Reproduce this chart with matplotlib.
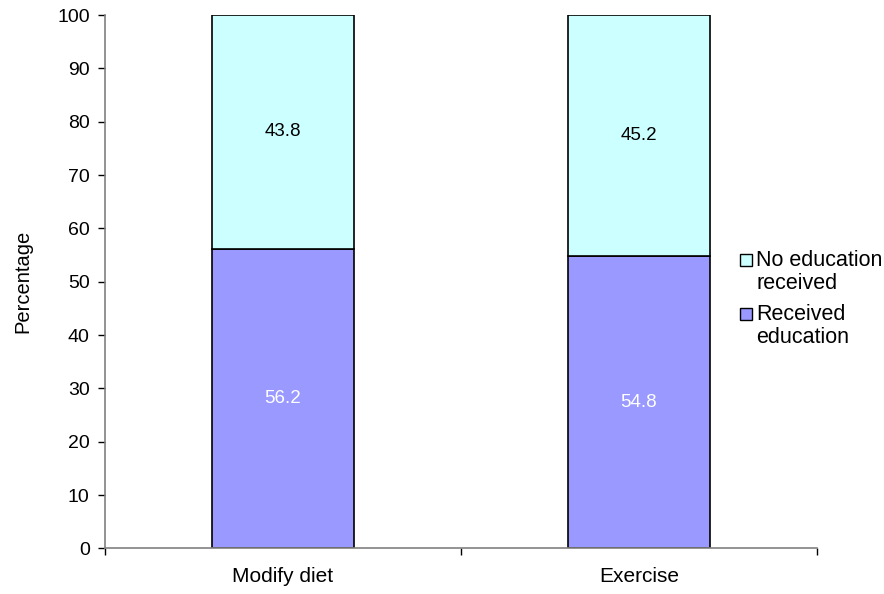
import matplotlib
matplotlib.use("Agg")
import matplotlib.pyplot as plt
from matplotlib.patches import Rectangle
import numpy as np

categories = ["Modify diet", "Exercise"]
received = [56.2, 54.8]
no_education = [43.8, 45.2]

RECEIVED_COLOR = '#9999FF'
NO_EDU_COLOR = '#CCFFFF'

plt.rcParams['font.family'] = ['Liberation Sans', 'DejaVu Sans']

fig = plt.figure(figsize=(8.84, 5.94), dpi=100)
ax = fig.add_axes([0.1188, 0.0766, 0.8054, 0.8981])

x = np.arange(len(categories))
width = 0.4

ax.bar(x, received, width, color=RECEIVED_COLOR, edgecolor='black', linewidth=1.2)
ax.bar(x, no_education, width, bottom=received, color=NO_EDU_COLOR, edgecolor='black',
       linewidth=1.2)

for i in range(len(categories)):
    ax.text(x[i], received[i] / 2, f"{received[i]:.1f}", ha='center', va='center',
            color='white', fontsize=13.5)
    ax.text(x[i], received[i] + no_education[i] / 2, f"{no_education[i]:.1f}",
            ha='center', va='center', color='black', fontsize=13.5)

ax.set_xlim(-0.5, len(categories) - 0.5)
ax.set_ylim(0, 100)
ax.set_yticks(np.arange(0, 101, 10))
ax.set_xticks(x)
ax.set_xticklabels(categories, fontsize=15)
ax.set_xticks(np.arange(-0.5, len(categories), 1), minor=True)
ax.tick_params(axis='x', which='major', length=0, pad=13)
ax.tick_params(axis='x', which='minor', length=5, width=1, color='black')
ax.tick_params(axis='y', labelsize=14, length=5, width=1, color='black', pad=6)

for s in ['top', 'right']:
    ax.spines[s].set_visible(False)
for s in ['left', 'bottom']:
    ax.spines[s].set_color('#808080')
    ax.spines[s].set_linewidth(1.2)

ax.set_ylabel("Percentage", fontsize=14.5)
ax.yaxis.set_label_coords(-0.1025, 0.5)

# legend drawn Excel-style: square next to the first line of each label
W, H = 884.0, 594.0
legend_items = [("No education\nreceived", NO_EDU_COLOR, 254),
                ("Received\neducation", RECEIVED_COLOR, 308)]
for label, color, top in legend_items:
    fig.patches.append(Rectangle((740 / W, 1 - (top + 12) / H), 12 / W, 12 / H,
                                 transform=fig.transFigure, facecolor=color,
                                 edgecolor='black', linewidth=1))
    fig.text(756 / W, 1 - (top - 4) / H, label, ha='left', va='top',
             fontsize=15.5, linespacing=1.1)

fig.savefig("out.png", dpi=100)
